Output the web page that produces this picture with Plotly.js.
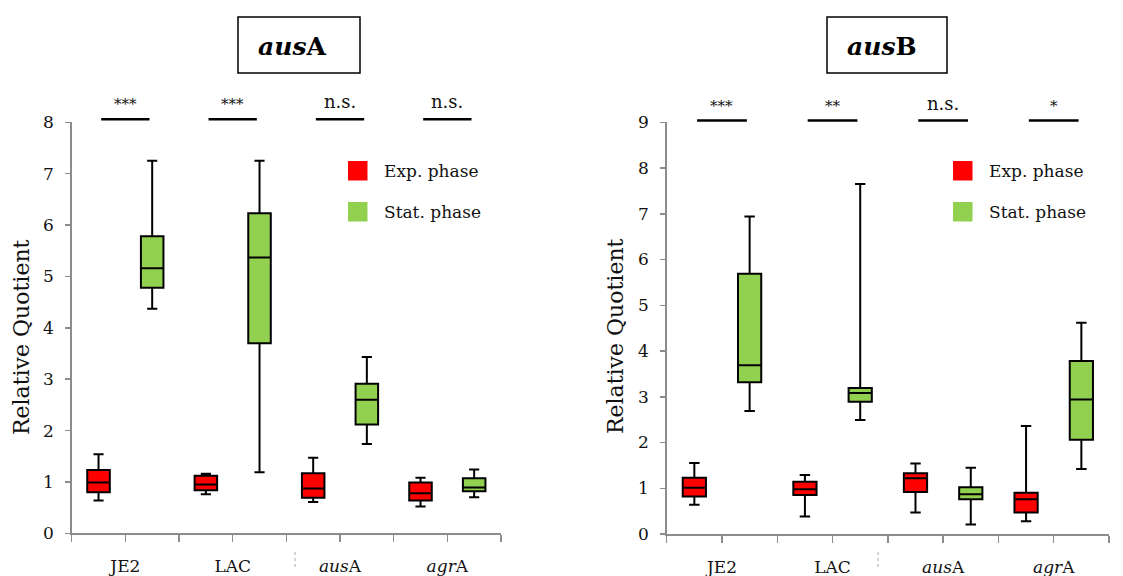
<!DOCTYPE html>
<html><head><meta charset="utf-8">
<script src="https://cdn.plot.ly/plotly-3.0.1.min.js"></script>
<style>body{margin:0;background:#fff}#chart{width:1123px;height:576px}</style>
</head><body><div id="chart"></div>
<script>
// ---------- DATA ----------
const categories = ['JE2', 'LAC', 'ausA', 'agrA'];
const tickLabels = ['JE2', 'LAC', '<i>aus</i>A', '<i>agr</i>A'];
const seriesNames = ['Exp. phase', 'Stat. phase'];
const seriesColors = ['#ff0000', '#92d050'];
const panelTitles = ['<b><i>aus</i>A</b>', '<b><i>aus</i>B</b>'];
const yTitle = 'Relative Quotient';

// panel ausA - exponential phase
const ausA_exp_low  = [0.64, 0.76, 0.61, 0.52];
const ausA_exp_q1   = [0.80, 0.84, 0.69, 0.64];
const ausA_exp_med  = [0.99, 0.95, 0.87, 0.78];
const ausA_exp_q3   = [1.23, 1.12, 1.17, 0.99];
const ausA_exp_high = [1.54, 1.16, 1.47, 1.08];
// panel ausA - stationary phase
const ausA_stat_low  = [4.37, 1.19, 1.74, 0.70];
const ausA_stat_q1   = [4.78, 3.70, 2.12, 0.82];
const ausA_stat_med  = [5.16, 5.37, 2.60, 0.89];
const ausA_stat_q3   = [5.78, 6.23, 2.91, 1.07];
const ausA_stat_high = [7.25, 7.25, 3.43, 1.24];
const ausA_sig = ['***', '***', 'n.s.', 'n.s.'];

// panel ausB - exponential phase
const ausB_exp_low  = [0.64, 0.38, 0.47, 0.28];
const ausB_exp_q1   = [0.82, 0.85, 0.92, 0.47];
const ausB_exp_med  = [1.01, 0.98, 1.22, 0.76];
const ausB_exp_q3   = [1.23, 1.14, 1.33, 0.90];
const ausB_exp_high = [1.55, 1.29, 1.54, 2.36];
// panel ausB - stationary phase
const ausB_stat_low  = [2.69, 2.49, 0.21, 1.42];
const ausB_stat_q1   = [3.32, 2.89, 0.76, 2.06];
const ausB_stat_med  = [3.69, 3.08, 0.87, 2.94];
const ausB_stat_q3   = [5.69, 3.19, 1.02, 3.78];
const ausB_stat_high = [6.94, 7.65, 1.45, 4.62];
const ausB_sig = ['***', '**', 'n.s.', '*'];

const yMax = [8, 9];

// ---------- BUILD ----------
const idx = categories.map((_, i) => i);
const FONT = 'DejaVu Serif';
const TXT = '#111';
const AX = '#8c8c8c';

function boxTrace(name, color, low, q1, med, q3, high, xa, ya, group, offset) {
  return {
    type: 'box', name: name, x: idx,
    lowerfence: low, q1: q1, median: med, q3: q3, upperfence: high,
    fillcolor: color, line: {color: '#000', width: 2},
    whiskerwidth: 0.45, boxpoints: false, showlegend: false,
    alignmentgroup: group, offsetgroup: offset,
    hoverinfo: 'skip', xaxis: xa, yaxis: ya
  };
}

const data = [
  boxTrace(seriesNames[0], seriesColors[0], ausA_exp_low, ausA_exp_q1, ausA_exp_med, ausA_exp_q3, ausA_exp_high, 'x', 'y', 'A', 'exp'),
  boxTrace(seriesNames[1], seriesColors[1], ausA_stat_low, ausA_stat_q1, ausA_stat_med, ausA_stat_q3, ausA_stat_high, 'x', 'y', 'A', 'stat'),
  boxTrace(seriesNames[0], seriesColors[0], ausB_exp_low, ausB_exp_q1, ausB_exp_med, ausB_exp_q3, ausB_exp_high, 'x2', 'y2', 'B', 'exp'),
  boxTrace(seriesNames[1], seriesColors[1], ausB_stat_low, ausB_stat_q1, ausB_stat_med, ausB_stat_q3, ausB_stat_high, 'x2', 'y2', 'B', 'stat')
];

const W = 1123, H = 576;
const px = v => v / W;
const py = v => 1 - v / H;

function xAxis(domain, anchor) {
  return {
    domain: domain, anchor: anchor, range: [-0.5, categories.length - 0.5],
    tickvals: idx, ticktext: tickLabels, ticks: 'outside', ticklen: 7,
    tickwidth: 1.5, tickcolor: AX, showline: true, linecolor: AX, linewidth: 1.5,
    showgrid: false, zeroline: false, ticklabelstandoff: 10,
    tickfont: {family: FONT, size: 17, color: TXT},
    minor: {tickvals: idx.concat([categories.length]).map(i => i - 0.5), ticks: 'outside',
            ticklen: 7, tickwidth: 1.5, tickcolor: AX, showgrid: false},
    fixedrange: true
  };
}
function yAxis(domain, anchor, max) {
  return {
    domain: domain, anchor: anchor, range: [0, max], dtick: 1,
    ticks: 'outside', ticklen: 5, tickwidth: 1.5, tickcolor: AX,
    showline: true, linecolor: AX, linewidth: 1.5, showgrid: false, zeroline: false,
    ticklabelstandoff: 8, tickfont: {family: FONT, size: 17, color: TXT},
    fixedrange: true
  };
}

const shapes = [];
const annotations = [];

// panel furniture positions (pixels)
const panels = [
  {xa: 'x', sig: ausA_sig, sigY: 119.2, box: [238, 17, 360, 73], titleX: 292, yTitleX: 21, yTitleY: 337,
   legX: 348, legTextX: 382, art: 295},
  {xa: 'x2', sig: ausB_sig, sigY: 120.6, box: [827, 17, 947, 73], titleX: 882, yTitleX: 615, yTitleY: 336,
   legX: 953, legTextX: 987, art: 878}
];

panels.forEach((p, k) => {
  // title box
  shapes.push({type: 'rect', xref: 'paper', yref: 'paper',
    x0: px(p.box[0]), x1: px(p.box[2]), y0: py(p.box[1]), y1: py(p.box[3]),
    line: {color: '#000', width: 1.5}, fillcolor: 'rgba(0,0,0,0)'});
  annotations.push({xref: 'paper', yref: 'paper', x: px(p.titleX),
    y: py((p.box[1] + p.box[3]) / 2 + 1), text: panelTitles[k], showarrow: false,
    xanchor: 'center', yanchor: 'middle', font: {family: FONT, size: 25, color: '#000'}});
  // y axis title
  annotations.push({xref: 'paper', yref: 'paper', x: px(p.yTitleX), y: py(p.yTitleY),
    text: yTitle, textangle: -90, showarrow: false, xanchor: 'center', yanchor: 'middle',
    font: {family: FONT, size: 22, color: TXT}});
  // significance bars
  p.sig.forEach((s, i) => {
    shapes.push({type: 'line', xref: p.xa, yref: 'paper', x0: i - 0.225, x1: i + 0.225,
      y0: py(p.sigY), y1: py(p.sigY), line: {color: '#000', width: 2.5}});
    const star = s.indexOf('*') >= 0;
    annotations.push({xref: p.xa, yref: 'paper', x: i, y: py(p.sigY), text: s, showarrow: false,
      xanchor: 'center', yanchor: 'bottom', yshift: star ? 4 : 5,
      font: {family: FONT, size: star ? 15 : 18, color: TXT}});
  });
  // legend
  seriesNames.forEach((n, j) => {
    const top = 161 + j * 41;
    shapes.push({type: 'rect', xref: 'paper', yref: 'paper',
      x0: px(p.legX), x1: px(p.legX + 19.5), y0: py(top), y1: py(top + 19.5),
      line: {width: 0}, fillcolor: seriesColors[j]});
    annotations.push({xref: 'paper', yref: 'paper', x: px(p.legTextX), y: py(top + 10),
      text: n, showarrow: false, xanchor: 'left', yanchor: 'middle',
      font: {family: FONT, size: 17, color: TXT}});
  });
  // faint dotted crop artifact next to second label
  shapes.push({type: 'line', xref: 'paper', yref: 'paper', x0: px(p.art), x1: px(p.art),
    y0: py(552), y1: py(570), line: {color: '#aaa', width: 1, dash: 'dot'}});
});

const layout = {
  width: W, height: H, margin: {l: 0, r: 0, t: 0, b: 0},
  paper_bgcolor: '#fff', plot_bgcolor: 'rgba(0,0,0,0)',
  showlegend: false, boxmode: 'group', boxgap: 0, boxgroupgap: 0.58,
  xaxis: xAxis([px(71.7), px(501)], 'y'),
  yaxis: yAxis([1 - 533.3 / H, 1 - 122.3 / H], 'x', yMax[0]),
  xaxis2: xAxis([px(666.7), px(1109)], 'y2'),
  yaxis2: yAxis([1 - 534 / H, 1 - 122.3 / H], 'x2', yMax[1]),
  shapes: shapes, annotations: annotations
};

Plotly.newPlot('chart', data, layout, {staticPlot: true, displayModeBar: false});
</script>
</body></html>
